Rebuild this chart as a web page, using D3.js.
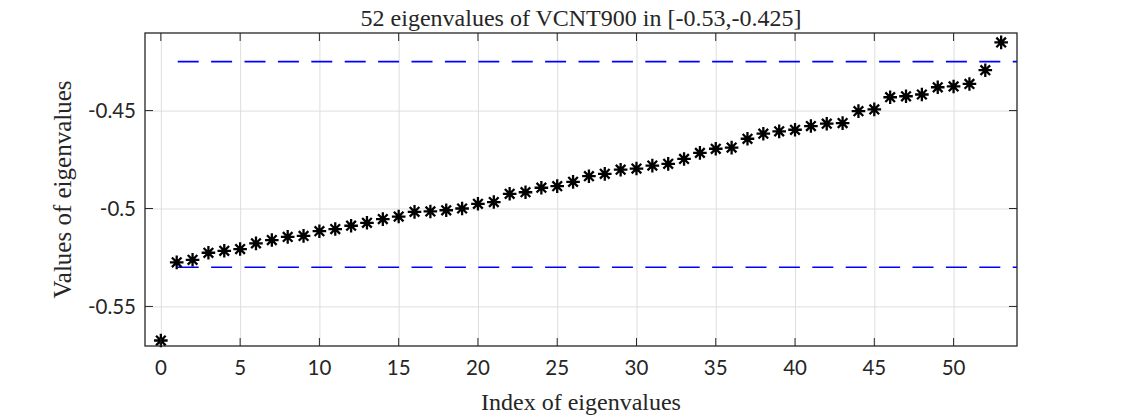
<!DOCTYPE html>
<html>
<head>
<meta charset="utf-8">
<script src="https://cdn.jsdelivr.net/npm/d3@7"></script>
<style>
  body { margin: 0; background: #fff; }
  .grid line { stroke: #dedede; stroke-width: 1; }
  .grid path { display: none; }
  .tick-label { font-family: "Lato", "DejaVu Sans", sans-serif; font-size: 20.5px; fill: #262626; }
  .serif { font-family: "Liberation Serif", "DejaVu Serif", serif; fill: #262626; }
</style>
</head>
<body>
<div id="chart"></div>
<script>
// eigenvalues, index 0..53
let eigenvalues = [
  -0.5674, -0.5275, -0.5262, -0.5226, -0.5216, -0.5207, -0.5178, -0.5161, -0.5145, -0.5140,
  -0.5116, -0.5105, -0.5088, -0.5073, -0.5054, -0.5041, -0.5017, -0.5015, -0.5009, -0.5000,
  -0.4976, -0.4967, -0.4925, -0.4917, -0.4894, -0.4886, -0.4864, -0.4835, -0.4823, -0.4802,
  -0.4796, -0.4781, -0.4772, -0.4747, -0.4716, -0.4695, -0.4689, -0.4644, -0.4618, -0.4606,
  -0.4598, -0.4579, -0.4567, -0.4564, -0.4503, -0.4494, -0.4432, -0.4427, -0.4418, -0.4381,
  -0.4377, -0.4364, -0.4294, -0.4152
];
let bounds = [-0.53, -0.425];
let xTicks = [0, 5, 10, 15, 20, 25, 30, 35, 40, 45, 50];
let yTicks = [-0.55, -0.5, -0.45];
let yTickLabels = ["-0.55", "-0.5", "-0.45"];

let margin = { top: 33, right: 108, bottom: 71, left: 145 },
  width = 1125 - margin.left - margin.right,
  height = 417 - margin.top - margin.bottom;

let svg = d3
  .select("#chart")
  .append("svg")
  .attr("width", 1125)
  .attr("height", 417);

let canvas = svg
  .append("g")
  .attr("transform", "translate(" + margin.left + "," + margin.top + ")");

let xScale = d3.scaleLinear().domain([-1, 54]).range([0, width]);
let yScale = d3.scaleLinear().domain([-0.5702, -0.4104]).range([height, 0]);

// grid
canvas
  .append("g")
  .attr("class", "grid")
  .attr("transform", "translate(0," + height + ")")
  .call(d3.axisBottom(xScale).tickValues(xTicks).tickSize(-height).tickFormat(""));

canvas
  .append("g")
  .attr("class", "grid")
  .call(d3.axisLeft(yScale).tickValues(yTicks).tickSize(-width).tickFormat(""));

// dashed bounds
canvas
  .append("clipPath")
  .attr("id", "clip")
  .append("rect")
  .attr("width", width)
  .attr("height", height);

canvas
  .selectAll(".bound")
  .data(bounds)
  .enter()
  .append("line")
  .attr("class", "bound")
  .attr("clip-path", "url(#clip)")
  .attr("x1", xScale(1) + 1)
  .attr("x2", xScale(55))
  .attr("y1", (d) => yScale(d))
  .attr("y2", (d) => yScale(d))
  .attr("stroke", "#0000ff")
  .attr("stroke-width", 1.7)
  .attr("stroke-dasharray", "21,12.4");

// asterisk markers
let r = 6.8,
  k = r * Math.SQRT1_2;
let star =
  "M" + -r + ",0L" + r + ",0" +
  "M0," + -r + "L0," + r +
  "M" + -k + "," + -k + "L" + k + "," + k +
  "M" + -k + "," + k + "L" + k + "," + -k;

canvas
  .selectAll(".pt")
  .data(eigenvalues)
  .enter()
  .append("path")
  .attr("class", "pt")
  .attr("d", star)
  .attr("transform", (d, i) => "translate(" + xScale(i) + "," + yScale(d) + ")")
  .attr("stroke", "#000")
  .attr("stroke-width", 2.3)
  .attr("fill", "none");

// box + inward ticks
let tickLen = 8;
canvas
  .append("rect")
  .attr("width", width)
  .attr("height", height)
  .attr("fill", "none")
  .attr("stroke", "#262626")
  .attr("stroke-width", 1.3);

xTicks.forEach(function (t) {
  canvas.append("line").attr("x1", xScale(t)).attr("x2", xScale(t))
    .attr("y1", height).attr("y2", height - tickLen).attr("stroke", "#262626");
  canvas.append("line").attr("x1", xScale(t)).attr("x2", xScale(t))
    .attr("y1", 0).attr("y2", tickLen).attr("stroke", "#262626");
  canvas.append("text").attr("class", "tick-label")
    .attr("x", xScale(t)).attr("y", height + 29)
    .attr("text-anchor", "middle").text(t);
});

yTicks.forEach(function (t, i) {
  canvas.append("line").attr("x1", 0).attr("x2", tickLen)
    .attr("y1", yScale(t)).attr("y2", yScale(t)).attr("stroke", "#262626");
  canvas.append("line").attr("x1", width).attr("x2", width - tickLen)
    .attr("y1", yScale(t)).attr("y2", yScale(t)).attr("stroke", "#262626");
  canvas.append("text").attr("class", "tick-label")
    .attr("x", -9).attr("y", yScale(t)).attr("dy", "0.36em")
    .attr("text-anchor", "end").text(yTickLabels[i]);
});

// title and axis labels
svg.append("text")
  .attr("class", "serif")
  .attr("x", margin.left + width / 2)
  .attr("y", 26)
  .attr("text-anchor", "middle")
  .style("font-size", "24px")
  .text("52 eigenvalues of VCNT900 in [-0.53,-0.425]");

svg.append("text")
  .attr("class", "serif")
  .attr("x", margin.left + width / 2)
  .attr("y", 410)
  .attr("text-anchor", "middle")
  .style("font-size", "24px")
  .text("Index of eigenvalues");

svg.append("text")
  .attr("class", "serif")
  .attr("transform", "translate(71," + (margin.top + height / 2) + ") rotate(-90)")
  .attr("text-anchor", "middle")
  .style("font-size", "25px")
  .text("Values of eigenvalues");
</script>
</body>
</html>
